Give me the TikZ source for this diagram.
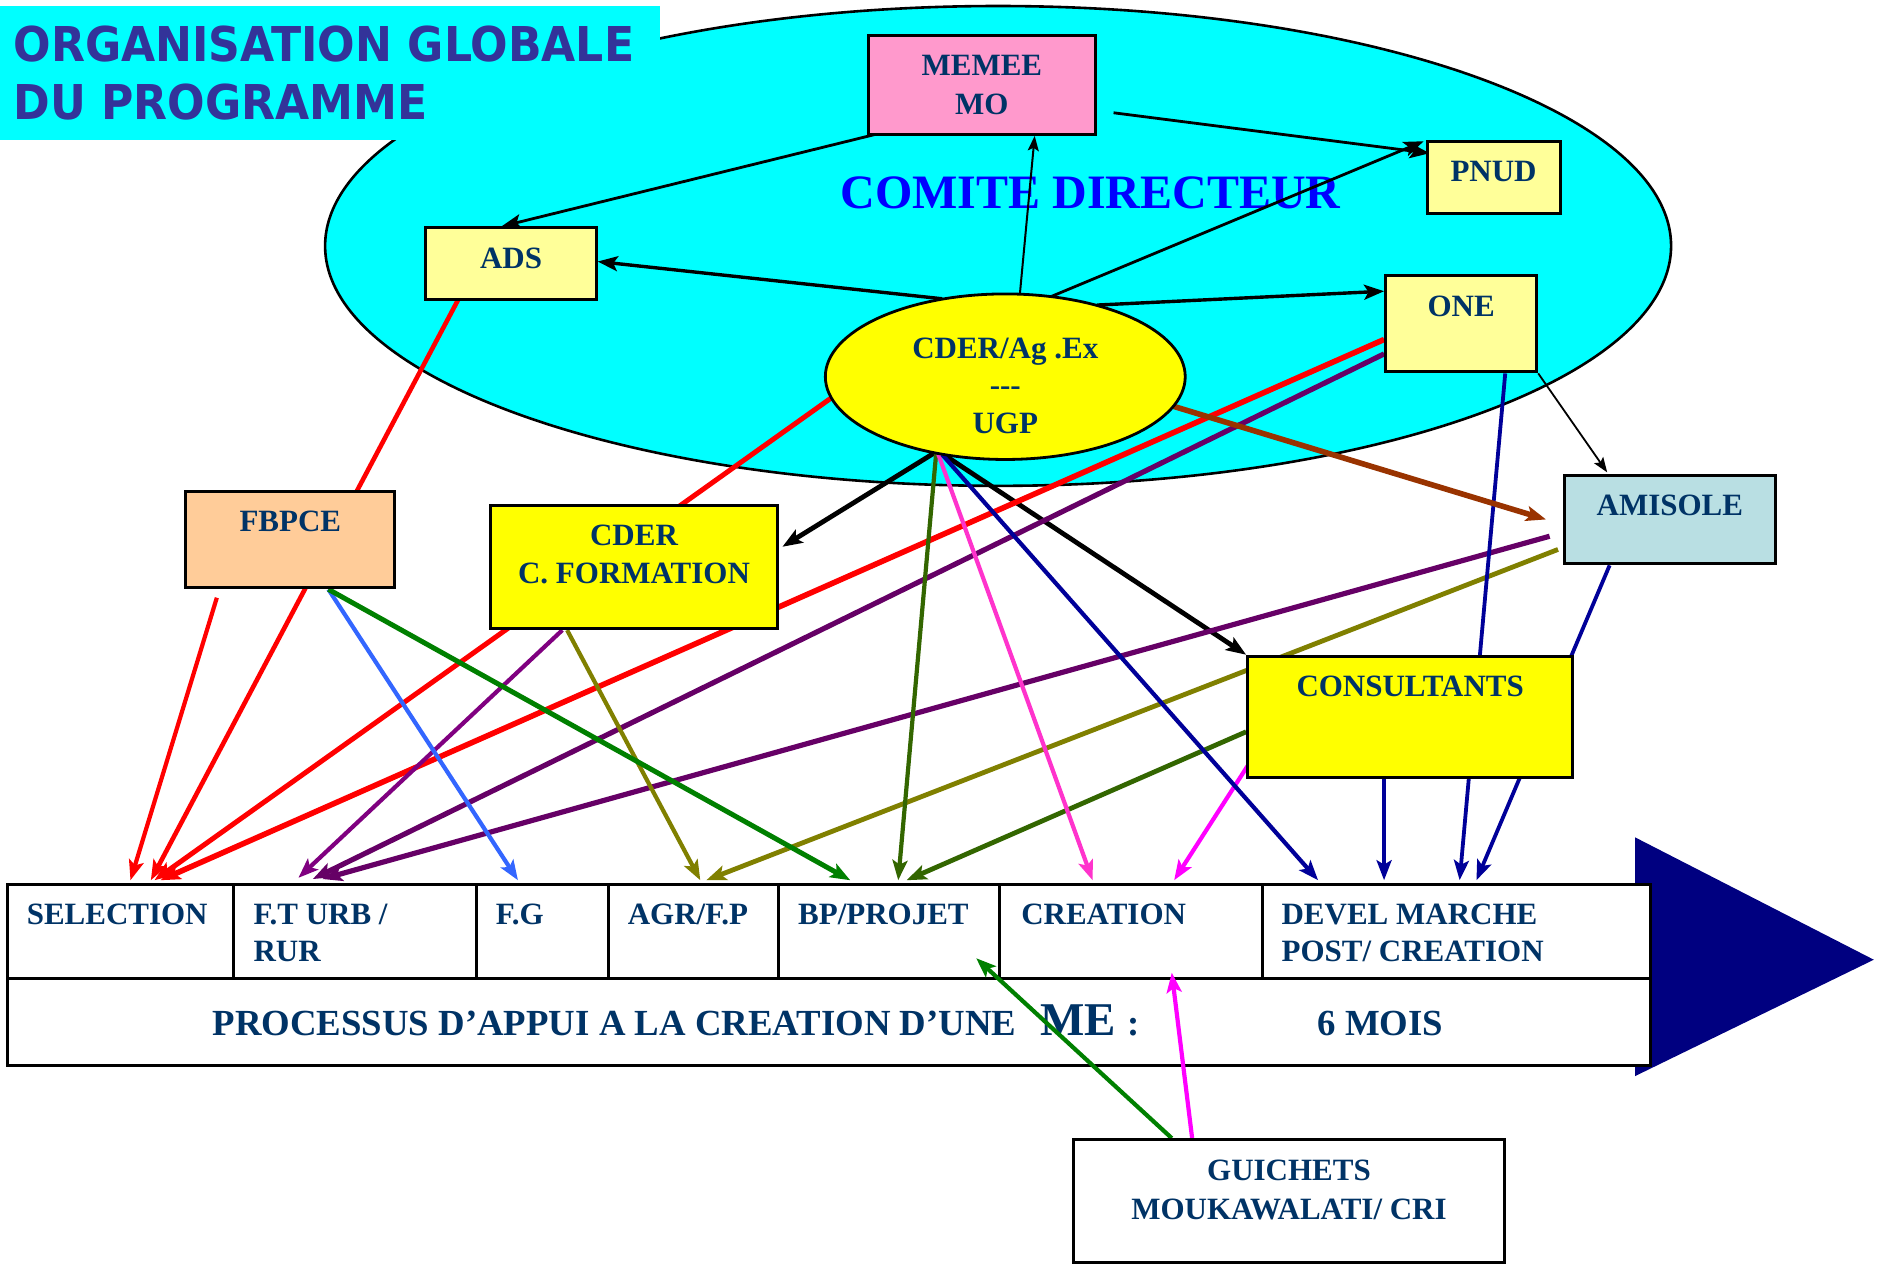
\documentclass[tikz,border=0pt]{standalone}
\usepackage{fontspec}
\setmainfont{Liberation Serif}
\newfontfamily\titlefont{DejaVu Sans}[FakeStretch=0.92]
\usetikzlibrary{shapes.geometric,arrows.meta,calc}
\definecolor{cyanC}{HTML}{00FFFF}
\definecolor{titleC}{HTML}{333399}
\definecolor{comiteC}{HTML}{0000FF}
\definecolor{txtC}{HTML}{003366}
\definecolor{pinkBox}{HTML}{FF99CC}
\definecolor{paleY}{HTML}{FFFF99}
\definecolor{peach}{HTML}{FFCC99}
\definecolor{yel}{HTML}{FFFF00}
\definecolor{amiC}{HTML}{B9DFE3}
\definecolor{triC}{HTML}{000080}
\definecolor{cRed}{HTML}{FF0000}
\definecolor{cDPurple}{HTML}{660066}
\definecolor{cPurple}{HTML}{800080}
\definecolor{cBlue}{HTML}{3366FF}
\definecolor{cOlive}{HTML}{808000}
\definecolor{cGreen}{HTML}{008000}
\definecolor{cDGreen}{HTML}{336600}
\definecolor{cPink}{HTML}{FF33CC}
\definecolor{cMagenta}{HTML}{FF00FF}
\definecolor{cNavy}{HTML}{000099}
\definecolor{cBrown}{HTML}{993300}
\begin{document}
\begin{tikzpicture}[x=0.6pt,y=-0.6pt,
  box/.style={draw=black, line width=1.5pt, rectangle, inner sep=0},
  lbl/.style={font=\bfseries\fontsize{15.5}{19.2}\selectfont, text=txtC, align=center, inner sep=0},
  cell/.style={draw=black, line width=1.5pt, rectangle, inner sep=0, fill=white, minimum height=47.4pt},
  ctxt/.style={font=\bfseries\fontsize{15.5}{19}\selectfont, text=txtC, anchor=base west, inner sep=0},
  tip/.style={-{Stealth[length=10pt,width=7.5pt,inset=2.2pt]}},
  smalltip/.style={-{Stealth[length=7.5pt,width=5.5pt,inset=1.5pt]}}
]
\useasboundingbox (0,0) rectangle (1568,1053);
\fill[white] (0,0) rectangle (1568,1053);

% comite ellipse
\node[ellipse, draw=black, line width=1.3pt, fill=cyanC, minimum width=673.2pt, minimum height=240pt, inner sep=0] (comite) at (832,205) {};
\node[font=\bfseries\fontsize{24}{28}\selectfont, text=comiteC, inner sep=0] (comitet) at (909,161) {COMITE DIRECTEUR};

% big arrow triangle
\fill[triC] (1363,698) -- (1363,897) -- (1562,800) -- cycle;

% table
\node[cell, minimum width=113.4pt] (sel) at (100.5,776.5) {};
\node[cell, minimum width=121.2pt] (fturb) at (296,776.5) {};
\node[cell, minimum width=66pt] (fg) at (452,776.5) {};
\node[cell, minimum width=85.2pt] (agr) at (578,776.5) {};
\node[cell, minimum width=110.4pt] (bp) at (741,776.5) {};
\node[cell, minimum width=131.4pt] (crea) at (942.5,776.5) {};
\node[cell, minimum width=194.4pt] (devel) at (1214,776.5) {};
\node[cell, minimum width=822pt, minimum height=43.2pt] (proc) at (691,852) {};

\node[ctxt] (selt) at (22,770.5) {SELECTION};
\node[ctxt] (fturbt1) at (211,770.5) {F.T URB /};
\node[ctxt] (fturbt2) at (211,801.5) {RUR};
\node[ctxt] (fgt) at (413,770.5) {F.G};
\node[ctxt] (agrt) at (523,770.5) {AGR/F.P};
\node[ctxt] (bpt) at (665,770.5) {BP/PROJET};
\node[ctxt] (creat) at (851,770.5) {CREATION};
\node[ctxt] (develt1) at (1068,770.5) {DEVEL MARCHE};
\node[ctxt] (develt2) at (1068,801.5) {POST/ CREATION};
\node[ctxt, font=\bfseries\fontsize{18.4}{22}\selectfont] (proct) at (177,863) {PROCESSUS D’APPUI A LA CREATION D’UNE\hspace{12pt}{\fontsize{23.5}{26}\selectfont ME}\hspace{1pt} :};
\node[ctxt, font=\bfseries\fontsize{18.4}{22}\selectfont] (moist) at (1098,863) {6 MOIS};

% node positions used by connectors (boxes drawn later, on top)
\path (818.5,71) node[box, minimum width=113.4pt, minimum height=49.2pt] (memee) {}
      (1245.5,148) node[box, minimum width=66.6pt, minimum height=36pt] (pnud) {}
      (426,220) node[box, minimum width=85.2pt, minimum height=36pt] (ads) {}
      (1218,270) node[box, minimum width=75.6pt, minimum height=48pt] (one) {}
      (242,450) node[box, minimum width=104.4pt, minimum height=48pt] (fbpce) {}
      (528.5,472.5) node[box, minimum width=143.4pt, minimum height=61.8pt] (cform) {}
      (1392,433) node[box, minimum width=105.6pt, minimum height=44.4pt] (amisole) {}
      (1175.5,597.5) node[box, minimum width=162.6pt, minimum height=60.6pt] (consult) {}
      (1074.5,1001) node[box, minimum width=215.4pt, minimum height=61.2pt] (guichets) {}
      (838,314) node[ellipse, inner sep=0, minimum width=180pt, minimum height=82.8pt] (cder) {};

% black connectors
\draw[tip, line width=1.4pt] ($(memee.south west)+(6,-1)$) -- ($(ads.north)+(-8,0)$);
\draw[tip, line width=1.7pt] (cder.129) -- ($(ads.east)+(0,-2)$);
\draw[smalltip, line width=1pt] (cder.80) -- ($(memee.south)+(44,0)$);
\draw[tip, line width=1.4pt] ($(memee.east)+(14,23)$) -- ($(pnud.north west)+(3,11)$);
\draw[tip, line width=1.4pt] (cder.60) -- ($(pnud.north west)+(-2,1)$);
\draw[tip, line width=1.7pt] (cder.38) -- ($(one.north west)+(0,14)$);
\draw[smalltip, line width=0.9pt] (one.south east) -- ($(amisole.north west)+(37,-1)$);
\draw[tip, line width=2.4pt] (cder.-133) -- ($(cform.north east)+(3,36)$);
\draw[tip, line width=2.4pt] (cder.-128) -- (consult.north west);

% coloured connectors
\draw[tip, cRed, line width=2.3pt] ($(ads.south west)+(29,-3)$) -- ($(sel.north west)+(121,-2)$);
\draw[tip, cRed, line width=2.1pt] ($(fbpce.south west)+(27,7)$) -- ($(sel.north west)+(104,-2)$);
\draw[tip, cRed, line width=2.5pt] (cder.187) -- ($(sel.north west)+(124,-2)$);
\draw[tip, cRed, line width=2.8pt] ($(one.west)+(0,13)$) -- ($(sel.north west)+(129,-2)$);
\draw[tip, cDPurple, line width=2.6pt] ($(one.west)+(0,25)$) -- ($(fturb.north west)+(67,-3)$);
\draw[tip, cDPurple, line width=2.6pt] ($(amisole.west)+(-11,14)$) -- ($(fturb.north west)+(75,-3)$);
\draw[tip, cPurple, line width=2.1pt] ($(cform.south west)+(61,0)$) -- ($(fturb.north west)+(55,-4)$);
\draw[tip, cBlue, line width=2.1pt] ($(fbpce.south west)+(120,0)$) -- ($(fg.north west)+(36,-2)$);
\draw[tip, cOlive, line width=2.1pt] ($(cform.south west)+(65,0)$) -- ($(agr.north west)+(78,-2)$);
\draw[tip, cOlive, line width=2.4pt] ($(amisole.west)+(-4,25)$) -- ($(agr.north west)+(83,-2)$);
\draw[tip, cGreen, line width=2.5pt] ($(fbpce.south west)+(120,0)$) -- ($(bp.north west)+(61,-2)$);
\draw[tip, cDGreen, line width=2.1pt] (cder.-132) -- ($(bp.north west)+(101,-2)$);
\draw[tip, cDGreen, line width=2.4pt] ($(consult.west)+(0,12.5)$) -- ($(bp.north west)+(108,-2)$);
\draw[tip, cPink, line width=2.1pt] (cder.-131) -- ($(crea.north west)+(79,-2)$);
\draw[tip, cMagenta, line width=2.1pt] ($(consult.south west)+(2,-12)$) -- ($(crea.north west)+(147,-2)$);
\draw[tip, cNavy, line width=2.1pt] (cder.-129) -- ($(devel.north west)+(48,-2)$);
\draw[tip, cNavy, line width=1.9pt] ($(consult.south west)+(115,0)$) -- ($(devel.north west)+(103,-2)$);
\draw[tip, cNavy, line width=1.9pt] ($(one.south west)+(101,0)$) -- ($(devel.north west)+(166,-2)$);
\draw[tip, cNavy, line width=1.9pt] ($(amisole.south west)+(39,0)$) -- ($(devel.north west)+(180,-2)$);
\draw[tip, cBrown, line width=2.8pt] (cder.-10) -- ($(amisole.west)+(-14,0)$);
\draw[tip, cGreen, line width=2.1pt] ($(guichets.north west)+(83,0)$) -- ($(bp.north west)+(166,63)$);
\draw[tip, cMagenta, line width=2.1pt] ($(guichets.north west)+(100,0)$) -- ($(crea.north west)+(145,75)$);

% boxes on top
\node[box, fill=pinkBox, minimum width=113.4pt, minimum height=49.2pt] at (memee) {};
\node[box, fill=paleY, minimum width=66.6pt, minimum height=36pt] at (pnud) {};
\node[box, fill=paleY, minimum width=85.2pt, minimum height=36pt] at (ads) {};
\node[box, fill=paleY, minimum width=75.6pt, minimum height=48pt] at (one) {};
\node[box, fill=peach, minimum width=104.4pt, minimum height=48pt] at (fbpce) {};
\node[box, fill=yel, minimum width=143.4pt, minimum height=61.8pt] at (cform) {};
\node[box, fill=amiC, minimum width=105.6pt, minimum height=44.4pt] at (amisole) {};
\node[box, fill=yel, minimum width=162.6pt, minimum height=60.6pt] at (consult) {};
\node[box, fill=white, minimum width=215.4pt, minimum height=61.2pt] at (guichets) {};
\node[ellipse, draw=black, line width=1.4pt, fill=yel, inner sep=0, minimum width=180pt, minimum height=82.8pt] at (cder) {};

\node[lbl] (memeet) at (818.5,71) {MEMEE\\MO};
\node[lbl] (pnudt) at (1245,143) {PNUD};
\node[lbl] (adst) at (426,215) {ADS};
\node[lbl] (onet) at (1218,255) {ONE};
\node[lbl, font=\bfseries\fontsize{15.5}{18.9}\selectfont] (cdert) at (838,321.5) {CDER/Ag .Ex\\{-}{-}{-}\\UGP};
\node[lbl] (fbpcet) at (242,435) {FBPCE};
\node[lbl] (cformt) at (528.5,462) {CDER\\C. FORMATION};
\node[lbl] (amisolet) at (1392,421) {AMISOLE};
\node[lbl] (consultt) at (1175.5,572) {CONSULTANTS};
\node[lbl] (guichetst) at (1074.5,992) {GUICHETS\\MOUKAWALATI/ CRI};

% title
\node[fill=cyanC, inner sep=0, minimum width=330pt, minimum height=67.2pt] (titlebox) at (275,61) {};
\node[anchor=base west, inner sep=0, font=\titlefont\bfseries\fontsize{24}{28}\selectfont, text=titleC] (title1) at (11,51.6) {ORGANISATION GLOBALE};
\node[anchor=base west, inner sep=0, font=\titlefont\bfseries\fontsize{24}{28}\selectfont, text=titleC] (title2) at (11,99.6) {DU PROGRAMME};
\end{tikzpicture}
\end{document}
